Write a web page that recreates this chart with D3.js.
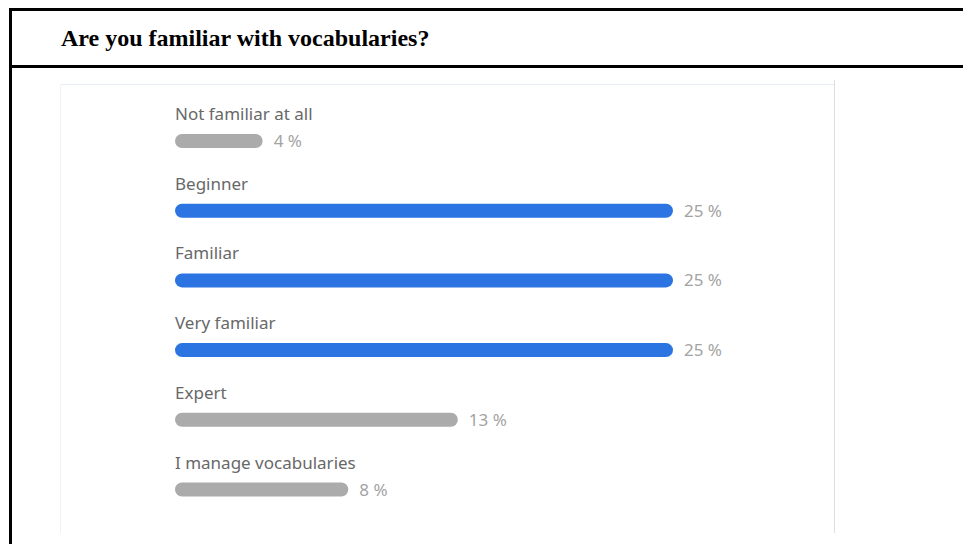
<!DOCTYPE html>
<html>
<head>
<meta charset="utf-8">
<script src="https://cdn.jsdelivr.net/npm/d3@7"></script>
<style>
  html, body { margin: 0; padding: 0; background: #fff; }
  svg { display: block; }
</style>
</head>
<body>
<svg id="chart" width="963" height="544"></svg>
<script>
// answers, in the order shown
var categories = ["Not familiar at all", "Beginner", "Familiar", "Very familiar", "Expert", "I manage vocabularies"];
// percent labels printed next to each bar
var percentLabels = [4, 25, 25, 25, 13, 8];
// bar lengths (percent)
var barValues = [4.4, 25, 25, 25, 14.2, 8.7];
// highlighted answers (the most frequent ones)
var highlighted = [false, true, true, true, false, false];

var svg = d3.select("#chart"),
    width = +svg.attr("width"),
    height = +svg.attr("height");

/* frame + title */
svg.append("rect").attr("x", 9).attr("y", 8).attr("width", width).attr("height", 3).attr("fill", "#000");
svg.append("rect").attr("x", 9).attr("y", 65).attr("width", width).attr("height", 3).attr("fill", "#000");
svg.append("rect").attr("x", 9).attr("y", 8).attr("width", 3).attr("height", height).attr("fill", "#000");

svg.append("text")
  .attr("x", 61).attr("y", 46)
  .attr("font-family", "'Liberation Serif', 'Times New Roman', serif")
  .attr("font-weight", "bold")
  .attr("font-size", 24)
  .attr("fill", "#000")
  .text("Are you familiar with vocabularies?");

/* inner panel (screenshot of a form result) */
var panel = svg.append("g");
panel.append("line").attr("x1", 60.5).attr("x2", 834).attr("y1", 84.5).attr("y2", 84.5).attr("stroke", "#e9eef5");
panel.append("line").attr("x1", 60.5).attr("x2", 60.5).attr("y1", 84).attr("y2", 533).attr("stroke", "#f2f2f2");
panel.append("line").attr("x1", 834.5).attr("x2", 834.5).attr("y1", 80).attr("y2", 533).attr("stroke", "#dedede");

/* bars */
var x = d3.scaleLinear().domain([0, 25]).range([175, 673]);
var y = d3.scalePoint().domain(categories).range([141, 489.5]);

var barH = 14;

var row = svg.selectAll(".row")
  .data(categories)
  .enter().append("g")
  .attr("class", "row")
  .attr("transform", function(d) { return "translate(0," + y(d) + ")"; });

row.append("text")
  .attr("x", 175)
  .attr("y", -21)
  .attr("font-family", "'Noto Sans', 'Open Sans', sans-serif")
  .attr("font-size", 17)
  .attr("fill", "#686868")
  .text(function(d) { return d; });

row.append("rect")
  .attr("x", x(0))
  .attr("y", -barH / 2)
  .attr("height", barH)
  .attr("rx", barH / 2)
  .attr("width", function(d, i) { return x(barValues[i]) - x(0); })
  .attr("fill", function(d, i) { return highlighted[i] ? "#2d74e3" : "#ababab"; });

row.append("text")
  .attr("x", function(d, i) { return x(barValues[i]) + 11; })
  .attr("y", 6)
  .attr("font-family", "'Noto Sans', 'Open Sans', sans-serif")
  .attr("font-size", 17)
  .attr("fill", "#a3a3a3")
  .text(function(d, i) { return percentLabels[i] + " %"; });
</script>
</body>
</html>
